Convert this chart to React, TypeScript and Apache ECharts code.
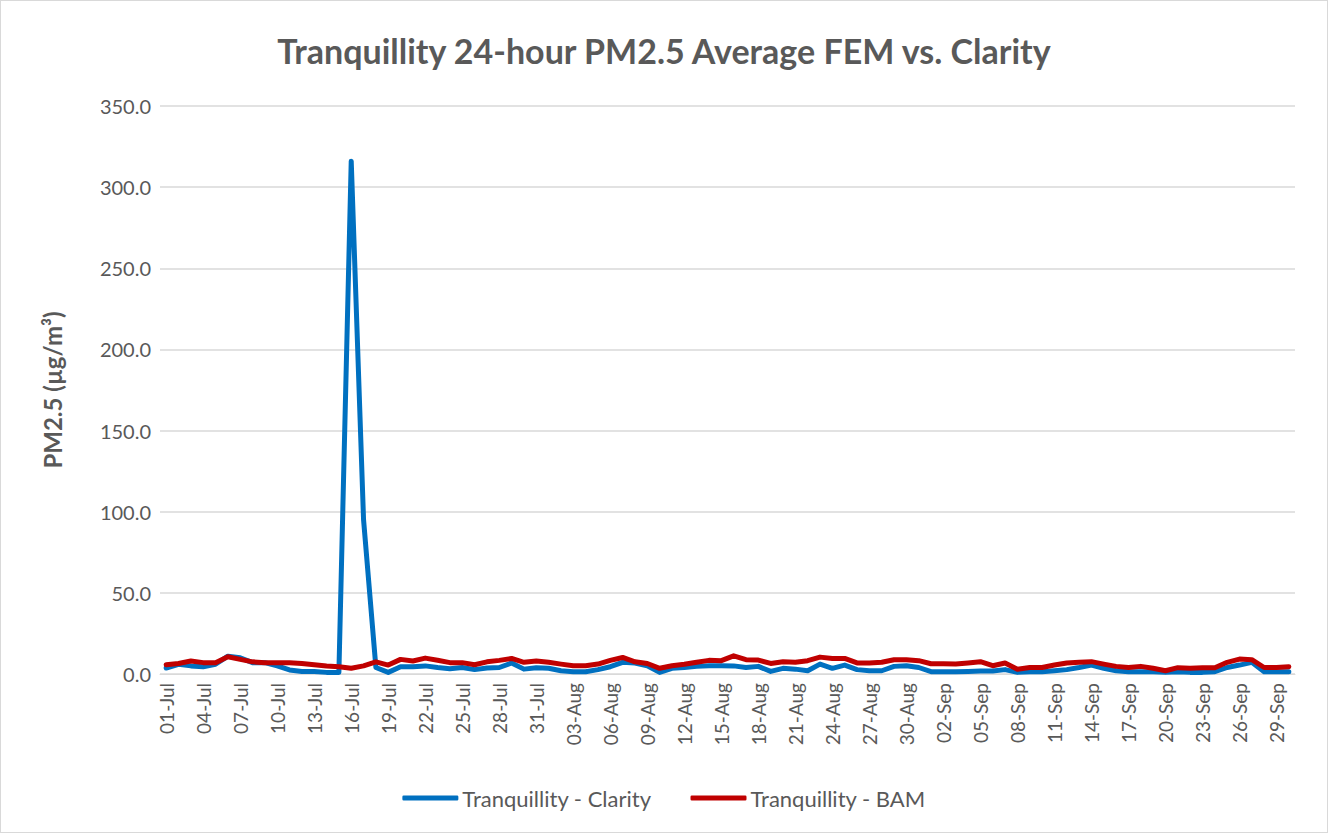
import React, { useEffect, useRef } from "react";
import * as echarts from "echarts";

const months = ["Jul", "Aug", "Sep"];
const monthDays = [31, 31, 30];

const dates: string[] = [];
months.forEach((m, mi) => {
  for (let d = 1; d <= monthDays[mi]; d++) {
    dates.push(String(d).padStart(2, "0") + "-" + m);
  }
});

const clarity = [
  3.7, 6, 5, 4.5, 6, 11, 10, 7, 7, 5, 2.5, 1.5, 1.5, 1, 1, 316, 95, 4, 1, 4.5,
  4.5, 5, 4, 3.2, 4, 2.7, 3.7, 4, 6.8, 3, 3.9,
  3.5, 2, 1.4, 1.4, 2.7, 4.5, 7.2, 6.8, 5.1, 1, 3.5, 4, 4.7, 5.1, 5.1, 5, 4,
  4.7, 1.6, 3.5, 3, 2, 6.1, 3.5, 5.5, 2.7, 2, 2, 4.7, 5.1, 4,
  1.4, 1.4, 1.4, 1.6, 1.8, 1.8, 2.7, 1, 1.4, 1.4, 2, 2.7, 4, 5.5, 3.5, 2, 1.4,
  1.4, 1.4, 1, 1.4, 1, 1, 1.4, 4, 5.5, 7.2, 1.4, 1.4, 1.4,
];

const bam = [
  5.7, 6.5, 8, 7, 7, 10.6, 9, 7.5, 7, 7, 7, 6.5, 5.7, 5, 4.5, 3.5, 5, 7.5, 5.5,
  9, 8, 9.8, 8.5, 7, 7, 5.7, 7.5, 8.4, 9.6, 7.2, 8,
  7.2, 6.1, 5.1, 5.1, 6.1, 8.4, 10.2, 7.5, 6.5, 3.5, 5.1, 6, 7.2, 8.4, 8.2, 11.2,
  8.8, 8.6, 6.5, 7.6, 7.2, 8.2, 10.4, 9.6, 9.6, 6.8, 6.8, 7.2, 8.8, 8.8, 8.2,
  6.3, 6.3, 6.1, 6.8, 7.6, 5.1, 6.8, 2.9, 4, 4, 5.5, 6.8, 7.2, 7.6, 6.1, 4.7, 4,
  4.7, 3.5, 2, 3.9, 3.5, 3.9, 3.9, 7.2, 9.2, 8.8, 4, 4, 4.5,
];

const seriesNames = ["Tranquillity - Clarity", "Tranquillity - BAM"];
const title = "Tranquillity 24-hour PM2.5 Average FEM vs. Clarity";
const yName = "PM2.5 (µg/m³)";

const FONT = "Lato, 'Open Sans', sans-serif";
const TXT = "#595959";

export default function App() {
  const ref = useRef<HTMLDivElement>(null);
  useEffect(() => {
    if (!ref.current) return;
    const chart = echarts.init(ref.current, undefined, { renderer: "svg" });
    chart.setOption({
      animation: false,
      backgroundColor: "#ffffff",
      textStyle: { fontFamily: FONT },
      title: {
        text: title,
        left: "center",
        top: 27,
        textStyle: { fontFamily: FONT, fontSize: 34, fontWeight: "bold", color: TXT },
      },
      legend: {
        bottom: 18,
        left: "center",
        itemWidth: 56,
        itemHeight: 5,
        itemGap: 39,
        icon: "roundRect",
        textStyle: { fontFamily: FONT, fontSize: 22, color: TXT, padding: [0, 0, 0, -1] },
        data: seriesNames,
      },
      grid: { left: 159, right: 32, top: 105, bottom: 158 },
      xAxis: {
        type: "category",
        data: dates,
        boundaryGap: true,
        axisLine: { lineStyle: { color: "#d9d9d9", width: 1 } },
        axisTick: { show: false },
        axisLabel: {
          interval: 2,
          rotate: 90,
          fontFamily: FONT,
          fontSize: 19,
          color: TXT,
          margin: 9,
        },
      },
      yAxis: {
        type: "value",
        min: 0,
        max: 350,
        interval: 50,
        name: yName,
        nameLocation: "middle",
        nameGap: 96,
        nameTextStyle: { fontFamily: FONT, fontSize: 24, fontWeight: "bold", color: TXT },
        axisLine: { show: false },
        axisTick: { show: false },
        splitLine: { lineStyle: { color: "#d9d9d9", width: 1.5 } },
        axisLabel: {
          fontFamily: FONT,
          fontSize: 20,
          color: TXT,
          margin: 9,
          formatter: (v: number) => v.toFixed(1),
        },
      },
      series: [
        {
          name: seriesNames[0],
          type: "line",
          data: clarity,
          showSymbol: false,
          symbol: "none",
          lineStyle: { color: "#0070C0", width: 5, cap: "round", join: "round" },
          itemStyle: { color: "#0070C0" },
        },
        {
          name: seriesNames[1],
          type: "line",
          data: bam,
          showSymbol: false,
          symbol: "none",
          lineStyle: { color: "#C00000", width: 5, cap: "round", join: "round" },
          itemStyle: { color: "#C00000" },
        },
      ],
    });
    return () => chart.dispose();
  }, []);
  return (
    <div
      ref={ref}
      style={{
        position: "absolute",
        left: 0,
        top: 0,
        width: 1328,
        height: 833,
        boxSizing: "border-box",
        border: "1px solid #d9d9d9",
      }}
    />
  );
}
